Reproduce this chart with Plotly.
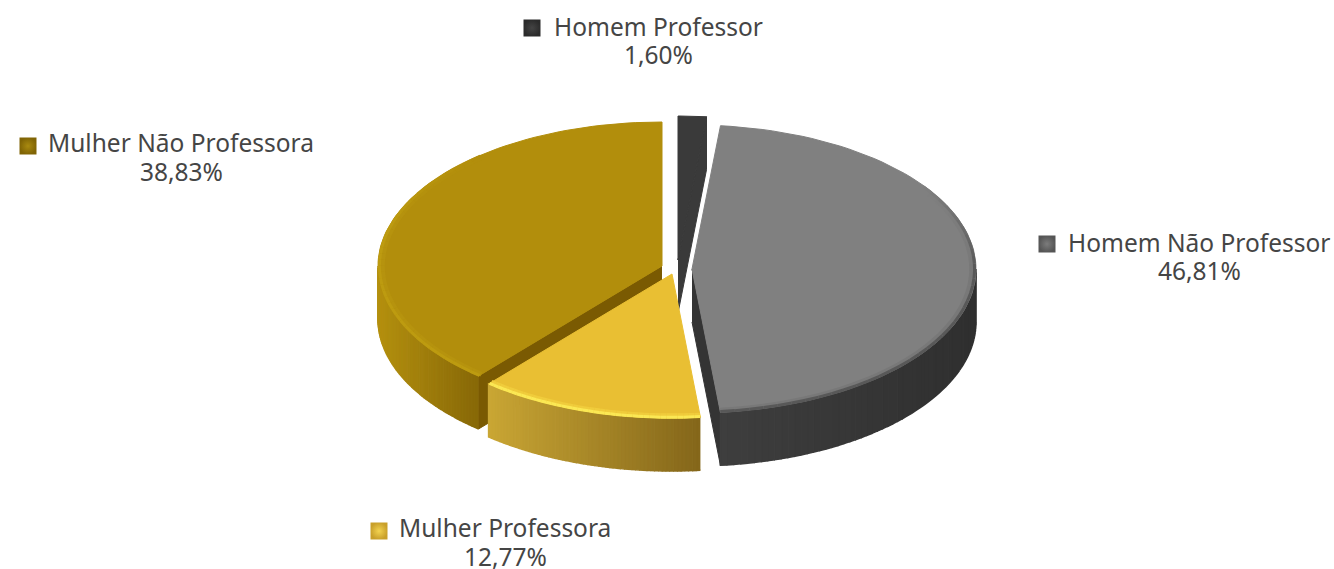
import numpy as np
import plotly.graph_objects as go

# data
categories = ["Homem Professor", "Homem Não Professor", "Mulher Professora", "Mulher Não Professora"]
values = [1.60, 46.81, 12.77, 38.83]

# look of each slice
top_colors = ["#3a3a3a", "#808080", "#e9bf33", "#b28e0c"]
side_left = ["#333333", "#3e3e3e", "#c9a634", "#b4900f"]
side_right = ["#333333", "#2f2f2f", "#84661a", "#876807"]
cut_colors = ["#3a3a3a", "#343434", "#84661a", "#7a5a02"]
bevel_outer = ["#3a3a3a", "#585858", "#fbe854", "#bd9b10"]
bevel_inner = ["#3a3a3a", "#787878", "#f0cc3c", "#b6930e"]
marker_colors = ["#2b2b2b", "#555555", "#c9a02a", "#806405"]
marker_glow = ["#444444", "#7c7c7c", "#f3d350", "#a98a10"]

# where each exploded slice sits in the page
centers = [(678, 260), (692, 269), (672, 274), (662, 266)]
rx, ry, depth = 284, 144, 53

name_pos = [(658, 26), (1199, 242), (505, 527), (181, 142)]
value_pos = [(658, 54), (1199, 270), (505, 556), (181, 171)]
marker_pos = [(532, 28), (1047, 244), (379, 531), (28, 146)]

FONT = "Noto Sans"
TEXT = "#454545"


def rim(c, a, b, drop=0, n=80, scale=1.0):
    t = np.radians(np.linspace(a, b, n))
    return c[0] + scale * rx * np.sin(t), c[1] - scale * ry * np.cos(t) + drop


def mix(c1, c2, f):
    p = [int(c1[i:i + 2], 16) for i in (1, 3, 5)]
    q = [int(c2[i:i + 2], 16) for i in (1, 3, 5)]
    return "rgb(%d,%d,%d)" % tuple(round(u + (v - u) * f) for u, v in zip(p, q))


def poly(fig, x, y, fill, line=None, width=1):
    fig.add_trace(go.Scatter(x=list(x), y=list(y), mode="lines", fill="toself", fillcolor=fill,
                             line=dict(color=line or fill, width=width), hoverinfo="skip", showlegend=False))


def bevel(fig, c, a, b, blo, bhi, base, color, scale, width):
    # rim highlight that fades into the top face where it stops short of the slice edge
    steps = np.linspace(blo, bhi, 41)
    for k in range(len(steps) - 1):
        mid = (steps[k] + steps[k + 1]) / 2
        f = 1.0
        if blo > a:
            f = min(f, (mid - blo) / 35)
        if bhi < b:
            f = min(f, (bhi - mid) / 35)
        x, y = rim(c, steps[k], steps[k + 1], n=4, scale=scale)
        fig.add_trace(go.Scatter(x=x, y=y, mode="lines", line=dict(color=mix(base, color, f), width=width),
                                 hoverinfo="skip", showlegend=False))


fig = go.Figure()

ends = np.cumsum(values) / np.sum(values) * 360
starts = np.concatenate(([0], ends[:-1]))

# back to front
for i in [0, 3, 2, 1]:
    c, a, b = centers[i], starts[i], ends[i]
    lo, hi = max(a, 90), min(b, 270)

    # only the cut faces turned to the viewer
    faces = []
    if np.sin(np.radians(a)) < -1e-6:
        faces.append(a)
    if np.sin(np.radians(b)) > 1e-6:
        faces.append(b)

    # the big grey slice has a white halo over its neighbours
    if i == 1:
        x, y = rim(c, a, b)
        poly(fig, np.r_[c[0], x, c[0]], np.r_[c[1], y, c[1]], "#ffffff", line="#ffffff", width=4)
        for ang in faces:
            x, y = rim(c, ang, ang, n=1)
            poly(fig, [c[0], x[0], x[0], c[0]], [c[1], y[0], y[0] + depth, c[1] + depth], "#ffffff",
                 line="#ffffff", width=4)

    for ang in faces:
        x, y = rim(c, ang, ang, n=1)
        poly(fig, [c[0], x[0], x[0], c[0]], [c[1], y[0], y[0] + depth, c[1] + depth], cut_colors[i])

    # outer wall, shaded in small steps
    if hi > lo:
        steps = np.linspace(lo, hi, 61)
        xl, xr = rim(c, lo, lo, n=1)[0][0], rim(c, hi, hi, n=1)[0][0]
        for k in range(len(steps) - 1):
            xs, ys = rim(c, steps[k], steps[k + 1], n=4)
            xb, yb = rim(c, steps[k + 1], steps[k], drop=depth, n=4)
            f = (xs.mean() - min(xl, xr)) / abs(xr - xl)
            poly(fig, np.r_[xs, xb], np.r_[ys, yb], mix(side_left[i], side_right[i], f), width=1.5)

    # top face
    x, y = rim(c, a, b)
    poly(fig, np.r_[c[0], x, c[0]], np.r_[c[1], y, c[1]], top_colors[i])

    # bevel along the front rim
    blo, bhi = max(a, 55), min(b, 320)
    if bhi > blo and i > 0:
        bevel(fig, c, a, b, blo, bhi, top_colors[i], bevel_inner[i], 0.985, 5)
        bevel(fig, c, a, b, blo, bhi, top_colors[i], bevel_outer[i], 0.995, 3)

# legend squares
for i in range(4):
    fig.add_trace(go.Scatter(x=[marker_pos[i][0]], y=[marker_pos[i][1]], mode="markers",
                             marker=dict(symbol="square", size=17, color=marker_colors[i], line=dict(width=0),
                                         gradient=dict(type="radial", color=marker_glow[i])),
                             hoverinfo="skip", showlegend=False))

# labels
for i, name in enumerate(categories):
    fig.add_annotation(x=name_pos[i][0], y=name_pos[i][1], text=name, showarrow=False,
                       font=dict(family=FONT, size=24.5, color=TEXT))
    fig.add_annotation(x=value_pos[i][0], y=value_pos[i][1], text=f"{values[i]:.2f}".replace(".", ",") + "%",
                       showarrow=False, font=dict(family=FONT, size=24.5, color=TEXT))

fig.update_layout(
    width=1334, height=569, margin=dict(l=0, r=0, t=0, b=0),
    paper_bgcolor="white", plot_bgcolor="white", showlegend=False,
    xaxis=dict(range=[0, 1334], visible=False, fixedrange=True),
    yaxis=dict(range=[569, 0], visible=False, fixedrange=True),
)

# drop the page's default body margin so axis units are page pixels
fig.write_html("out.html", config={"displayModeBar": False},
               post_script="document.body.style.margin='0';document.documentElement.style.overflow='hidden';")
